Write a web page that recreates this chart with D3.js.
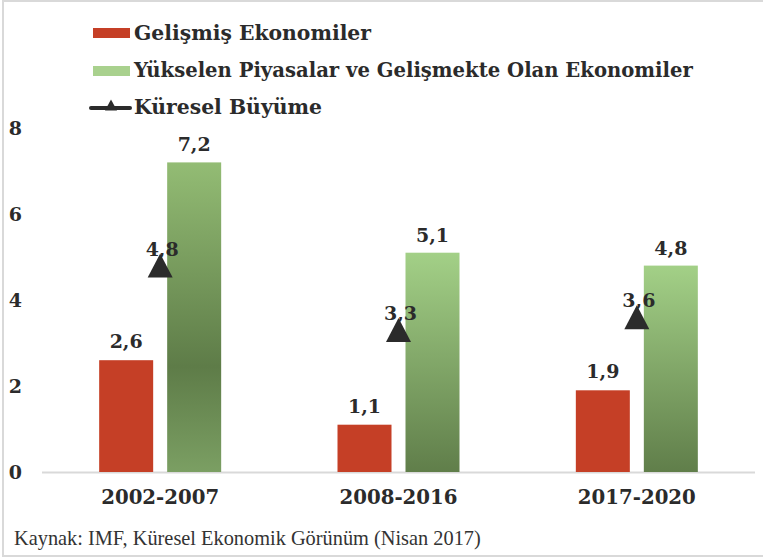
<!DOCTYPE html>
<html>
<head>
<meta charset="utf-8">
<script src="https://cdn.jsdelivr.net/npm/d3@7"></script>
<style>
  html, body { margin: 0; padding: 0; background: #fff; }
  svg { display: block; }
</style>
</head>
<body>
<svg id="chart" width="763" height="558"></svg>
<script>
const categories = ["2002-2007", "2008-2016", "2017-2020"];
const advanced = [2.6, 1.1, 1.9];
const emerging = [7.2, 5.1, 4.8];
const globalGrowth = [4.8, 3.3, 3.6];
const yTicks = [0, 2, 4, 6, 8];
const seriesNames = [
  "Gelişmiş Ekonomiler",
  "Yükselen Piyasalar ve Gelişmekte Olan Ekonomiler",
  "Küresel Büyüme"
];
const sourceText = "Kaynak: IMF, Küresel Ekonomik Görünüm (Nisan 2017)";

const W = 763, H = 558;
const svg = d3.select("#chart");
const serifBold = "'DejaVu Serif', 'Liberation Serif', serif";
const serifReg = "'Liberation Serif', 'DejaVu Serif', serif";
const RED = "#c53f26";
const DARK = "#2b2b2b";

function fit(sel, target) {
  const node = sel.node();
  const fs = parseFloat(sel.attr("font-size"));
  const w = node.getComputedTextLength();
  if (w > 0) sel.attr("font-size", (fs * target / w).toFixed(2));
  return sel;
}
const fmt = v => d3.format(".1f")(v).replace(".", ",");

// frame
svg.append("rect").attr("x", 3).attr("y", 1).attr("width", 800).attr("height", 555)
  .attr("fill", "none").attr("stroke", "#d9d9d9").attr("stroke-width", 2);

// gradients
const defs = svg.append("defs");
const g0 = defs.append("linearGradient").attr("id", "green0").attr("x1", 0).attr("y1", 0).attr("x2", 0).attr("y2", 1);
g0.append("stop").attr("offset", "0").attr("stop-color", "#93bc74");
g0.append("stop").attr("offset", "0.66").attr("stop-color", "#5e7c48");
g0.append("stop").attr("offset", "1").attr("stop-color", "#7b9f63");
const g1 = defs.append("linearGradient").attr("id", "green1").attr("x1", 0).attr("y1", 0).attr("x2", 0).attr("y2", 1);
g1.append("stop").attr("offset", "0").attr("stop-color", "#a3d087");
g1.append("stop").attr("offset", "1").attr("stop-color", "#607e4a");

// scales
const x = d3.scaleBand().domain(categories).range([41, 756]).padding(0);
const y = d3.scaleLinear().domain([0, 8]).range([472, 128]);
const barW = 54, gap = 7;

// y axis labels
const yAxis = d3.axisLeft(y).tickValues(yTicks).tickSize(0).tickPadding(0).tickFormat(d3.format("d"));
const ya = svg.append("g").attr("transform", "translate(22,0)").call(yAxis);
ya.select(".domain").remove();
ya.selectAll("text").attr("font-family", serifBold).attr("font-weight", "bold")
  .attr("font-size", 19).attr("fill", DARK).attr("dy", "0.36em");

// baseline
svg.append("line").attr("x1", 42).attr("x2", 755).attr("y1", y(0) + 0.5).attr("y2", y(0) + 0.5)
  .attr("stroke", "#d9d9d9").attr("stroke-width", 2);

// x axis labels
const xAxis = d3.axisBottom(x).tickSize(0).tickPadding(0);
const xa = svg.append("g").attr("transform", "translate(0,504)").call(xAxis);
xa.select(".domain").remove();
xa.selectAll("text").attr("font-family", serifBold).attr("font-weight", "bold")
  .attr("font-size", 17).attr("fill", DARK).attr("dy", 0)
  .each(function () { fit(d3.select(this), 118); });

// bars
const cx = c => x(c) + x.bandwidth() / 2;
svg.selectAll(".barA").data(categories).enter().append("rect")
  .attr("x", c => cx(c) - gap - barW).attr("width", barW)
  .attr("y", (c, i) => y(advanced[i])).attr("height", (c, i) => y(0) - y(advanced[i]))
  .attr("fill", RED);
svg.selectAll(".barE").data(categories).enter().append("rect")
  .attr("x", c => cx(c) + gap).attr("width", barW)
  .attr("y", (c, i) => y(emerging[i])).attr("height", (c, i) => y(0) - y(emerging[i]))
  .attr("fill", (c, i) => i === 0 ? "url(#green0)" : "url(#green1)");

// bar value labels
const lblStyle = s => s.attr("font-family", serifBold).attr("font-weight", "bold")
  .attr("font-size", 19).attr("fill", DARK).attr("text-anchor", "middle");
svg.selectAll(".lblA").data(categories).enter().append("text")
  .attr("x", c => cx(c) - gap - barW / 2).attr("y", (c, i) => y(advanced[i]) - 12)
  .text((c, i) => fmt(advanced[i])).call(lblStyle);
svg.selectAll(".lblE").data(categories).enter().append("text")
  .attr("x", c => cx(c) + gap + barW / 2).attr("y", (c, i) => y(emerging[i]) - 11)
  .text((c, i) => fmt(emerging[i])).call(lblStyle);

// triangles
const tri = (w, h) => `M0,${-h / 2}L${w / 2},${h / 2}L${-w / 2},${h / 2}Z`;
svg.selectAll(".tri").data(categories).enter().append("path")
  .attr("d", tri(25, 24))
  .attr("transform", (c, i) => `translate(${cx(c)},${y(globalGrowth[i])})`)
  .attr("fill", DARK);
svg.selectAll(".lblG").data(categories).enter().append("text")
  .attr("x", c => cx(c) + 2).attr("y", (c, i) => y(globalGrowth[i]) - 10)
  .text((c, i) => fmt(globalGrowth[i])).call(lblStyle);

// legend
const legend = svg.append("g");
const rows = [39.5, 77, 114];
legend.append("rect").attr("x", 93).attr("y", 28).attr("width", 37).attr("height", 10).attr("fill", RED);
legend.append("rect").attr("x", 93).attr("y", 66).attr("width", 37).attr("height", 10).attr("fill", "#a9d18e");
legend.append("line").attr("x1", 91).attr("x2", 130).attr("y1", 108).attr("y2", 108)
  .attr("stroke", DARK).attr("stroke-width", 4).attr("stroke-linecap", "round");
legend.append("path").attr("d", tri(12, 11)).attr("transform", "translate(111,105)").attr("fill", DARK);
const widths = [237, 559, 188];
seriesNames.forEach((n, i) => {
  const t = legend.append("text").attr("x", 134).attr("y", rows[i]).text(n)
    .attr("font-family", serifBold).attr("font-weight", "bold").attr("font-size", 17).attr("fill", DARK);
  fit(t, widths[i]);
});

// source
const src = svg.append("text").attr("x", 14).attr("y", 545).text(sourceText)
  .attr("font-family", serifReg).attr("font-size", 18).attr("fill", "#333");
fit(src, 467);
</script>
</body>
</html>
